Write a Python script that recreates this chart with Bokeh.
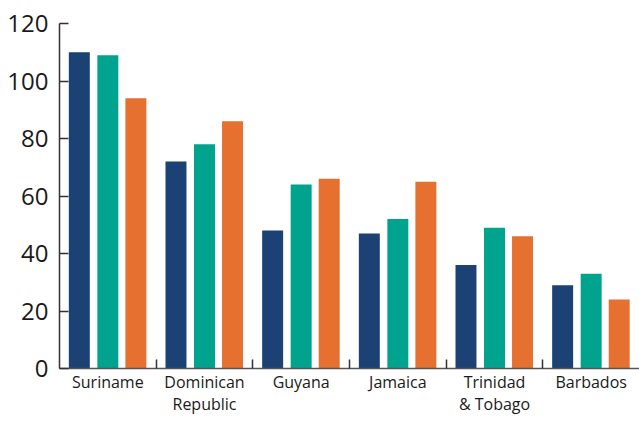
import numpy as np
from bokeh.plotting import figure
from bokeh.models import Range1d, FixedTicker, Legend, LegendItem, ColumnDataSource
from bokeh.embed import file_html
from bokeh.resources import INLINE

categories = ["Suriname", "Dominican\nRepublic", "Guyana", "Jamaica", "Trinidad\n& Tobago", "Barbados"]
years = ["2013", "2014", "2015"]
v2013 = [110, 72, 48, 47, 36, 29]
v2014 = [109, 78, 64, 52, 49, 33]
v2015 = [94, 86, 66, 65, 46, 24]
y_ticks = [0, 20, 40, 60, 80, 100, 120]
colors = ["#1b4175", "#00a48e", "#e5702f"]

FONT = "Open Sans"

p = figure(frame_width=580, frame_height=345,
           x_range=Range1d(0, len(categories)), y_range=Range1d(0, 120),
           output_backend="svg", toolbar_location=None,
           min_border_left=59, min_border_top=23, min_border_right=0, min_border_bottom=0)
p.outline_line_color = None
p.grid.visible = False
p.background_fill_color = "white"

centers = np.arange(len(categories)) + 0.5
offsets = [-0.295, 0.0, 0.29]
renderers = []
for vals, off, col in zip([v2013, v2014, v2015], offsets, colors):
    src = ColumnDataSource(dict(x=centers + off, top=vals))
    r = p.vbar(x="x", top="top", bottom=0, width=0.217, source=src,
               fill_color=col, line_color=None)
    renderers.append(r)

# y axis
yax = p.yaxis[0]
yax.ticker = FixedTicker(ticks=y_ticks)
yax.axis_line_color = "#333333"
yax.axis_line_width = 1.5
yax.major_tick_in = 9
yax.major_tick_out = 0
yax.major_tick_line_color = "#333333"
yax.major_tick_line_width = 1.5
yax.minor_tick_line_color = None
yax.minor_tick_out = 0
yax.major_label_standoff = 11
yax.major_label_text_font = FONT
yax.major_label_text_font_size = "24px"
yax.major_label_text_color = "#1a1a1a"

# x axis
xax = p.xaxis[0]
xax.ticker = FixedTicker(ticks=list(centers), minor_ticks=list(range(1, len(categories))))
xax.major_label_overrides = {float(c): lab for c, lab in zip(centers, categories)}
xax.axis_line_color = "#555555"
xax.axis_line_width = 1.5
xax.major_tick_line_color = None
xax.major_tick_in = 0
xax.major_tick_out = 0
xax.minor_tick_in = 9
xax.minor_tick_out = 0
xax.minor_tick_line_color = "#333333"
xax.minor_tick_line_width = 1.5
xax.major_label_standoff = 2
xax.major_label_text_font = FONT
xax.major_label_text_font_size = "16px"
xax.major_label_text_line_height = 1.0
xax.major_label_text_color = "#1a1a1a"

legend = Legend(items=[LegendItem(label=y, renderers=[r]) for y, r in zip(years, renderers)],
                location="top_center", orientation="horizontal",
                border_line_color=None, background_fill_alpha=0,
                padding=0, margin=0, spacing=60,
                glyph_width=15, glyph_height=15, label_standoff=3, label_width=37,
                label_height=15, label_text_line_height=1.0,
                label_text_font=FONT, label_text_font_size="16px", label_text_color="#1a1a1a")
try:
    legend.margin = -14
except Exception:
    legend.margin = 0
p.add_layout(legend, "below")

open("out.html", "w").write(file_html(p, INLINE))
